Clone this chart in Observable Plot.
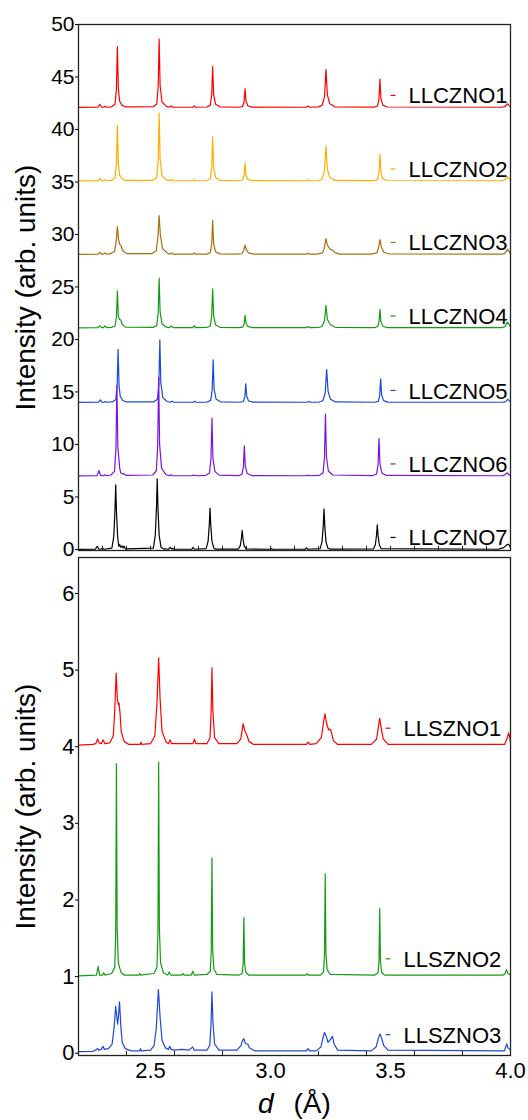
<!DOCTYPE html>
<html>
<head>
<meta charset="utf-8">
<script src="https://cdn.jsdelivr.net/npm/d3@7"></script>
<script src="https://cdn.jsdelivr.net/npm/@observablehq/plot@0.6"></script>
<style>
  html, body { margin: 0; padding: 0; background: #fff; }
  #chart { width: 528px; }
  #chart svg { display: block; }
</style>
</head>
<body>
<div id="chart"></div>
<script>
// ---------- data (d in Å, intensity above each pattern's own baseline) ----------
const topNames = ["LLCZNO1", "LLCZNO2", "LLCZNO3", "LLCZNO4", "LLCZNO5", "LLCZNO6", "LLCZNO7"];
const topOffsets = [42.1, 35.1, 28.1, 21.1, 14.0, 7.0, 0.0];
const topColors = ["#ff0000", "#ffae00", "#a8700c", "#149b14", "#1e46dc", "#7a14dc", "#000000"];

const bottomNames = ["LLSZNO1", "LLSZNO2", "LLSZNO3"];
const bottomOffsets = [4.02, 1.01, 0.02];
const bottomColors = ["#ff0000", "#149b14", "#1e46dc"];

const topYTicks = [0, 5, 10, 15, 20, 25, 30, 35, 40, 45, 50];
const bottomYTicks = [0, 1, 2, 3, 4, 5, 6];
const xTickLabels = [2.5, 3.0, 3.5, 4.0];
const topMinorTicks = [2.3, 2.4, 2.5, 2.6, 2.7, 2.8, 2.9, 3.0, 3.1, 3.2, 3.3, 3.4, 3.5, 3.6, 3.7, 3.8, 3.9];
const bottomMinorTicks = [2.4, 2.6, 2.8, 3.2, 3.4, 3.6, 3.8];

const LLCZNO1 = [
[2.2,0],[2.28,0.02],[2.289,0.3],[2.296,0.03],[2.304,0.02],[2.31,0.12],[2.317,0.02],
[2.337,0.06],[2.352,0.29],[2.358,1.74],[2.362,5.8],[2.366,1.86],[2.371,0.6],[2.376,0.42],[2.382,0.2],[2.395,0.06],
[2.511,0.07],[2.526,0.33],[2.532,1.95],[2.536,6.5],[2.54,2.08],[2.548,0.52],[2.566,0.1],
[2.58,0.02],[2.587,0.15],[2.594,0.02],[2.676,0.02],[2.682,0.15],[2.688,0.02],
[2.734,0.04],[2.749,0.2],[2.755,1.17],[2.759,3.9],[2.763,1.25],[2.771,0.31],[2.789,0.06],
[2.869,0.02],[2.884,0.09],[2.89,0.54],[2.894,1.8],[2.898,0.58],[2.906,0.14],[2.924,0.03],
[3.15,0.02],[3.157,0.15],[3.164,0.02],
[3.2,0.05],[3.215,0.2],[3.225,1.0],[3.231,3.6],[3.237,1.2],[3.247,0.35],[3.268,0.06],
[3.431,0.03],[3.446,0.14],[3.452,0.81],[3.456,2.7],[3.46,0.86],[3.468,0.22],[3.486,0.04],
[3.965,0.02],[3.978,0.1],[3.987,0.35],[3.995,0.15],[4.0,0.05]
];
const LLCZNO2 = [
[2.2,0],[2.28,0.02],[2.289,0.25],[2.296,0.03],[2.304,0.02],[2.31,0.12],[2.317,0.02],
[2.337,0.05],[2.352,0.27],[2.358,1.59],[2.362,5.3],[2.366,1.7],[2.371,0.55],[2.376,0.4],[2.382,0.2],[2.395,0.05],
[2.511,0.06],[2.526,0.32],[2.532,1.94],[2.536,6.45],[2.54,2.06],[2.548,0.52],[2.566,0.1],
[2.58,0.02],[2.587,0.15],[2.594,0.02],[2.676,0.02],[2.682,0.12],[2.688,0.02],
[2.734,0.04],[2.749,0.21],[2.755,1.26],[2.759,4.2],[2.763,1.34],[2.771,0.34],[2.789,0.06],
[2.869,0.02],[2.884,0.09],[2.89,0.51],[2.894,1.7],[2.898,0.54],[2.906,0.14],[2.924,0.03],
[3.15,0.02],[3.157,0.12],[3.164,0.02],
[3.2,0.04],[3.215,0.17],[3.225,0.95],[3.231,3.3],[3.237,1.1],[3.247,0.32],[3.268,0.05],
[3.431,0.03],[3.446,0.13],[3.452,0.77],[3.456,2.55],[3.46,0.82],[3.468,0.2],[3.486,0.04],
[3.965,0.02],[3.978,0.12],[3.987,0.4],[3.995,0.2],[4.0,0.05]
];
const LLCZNO3 = [
[2.2,0],[2.28,0.02],[2.289,0.2],[2.296,0.03],[2.304,0.02],[2.31,0.15],[2.317,0.02],
[2.332,0.05],[2.35,0.27],[2.357,1.2],[2.362,2.65],[2.367,1.4],[2.372,0.95],[2.377,0.85],[2.384,0.35],[2.4,0.08],
[2.506,0.07],[2.524,0.37],[2.531,1.67],[2.536,3.7],[2.541,1.85],[2.55,0.55],[2.571,0.11],
[2.58,0.03],[2.587,0.15],[2.594,0.02],[2.676,0.02],[2.682,0.15],[2.688,0.02],
[2.734,0.03],[2.749,0.16],[2.755,0.97],[2.759,3.23],[2.763,1.03],[2.771,0.26],[2.789,0.05],
[2.86,0.02],[2.882,0.09],[2.889,0.4],[2.894,0.9],[2.899,0.45],[2.908,0.14],[2.93,0.03],
[3.15,0.02],[3.157,0.12],[3.164,0.02],
[3.195,0.03],[3.217,0.15],[3.225,0.68],[3.231,1.5],[3.237,0.9],[3.248,0.5],[3.258,0.42],[3.27,0.15],[3.29,0.03],
[3.42,0.03],[3.443,0.14],[3.45,0.63],[3.456,1.4],[3.462,0.7],[3.472,0.21],[3.495,0.04],
[3.965,0.02],[3.975,0.08],[3.988,0.5],[3.996,0.2],[4.0,0.1]
];
const LLCZNO4 = [
[2.2,0],[2.28,0.02],[2.289,0.2],[2.296,0.03],[2.304,0.02],[2.31,0.2],[2.317,0.02],
[2.337,0.05],[2.352,0.18],[2.358,1.05],[2.362,3.5],[2.366,1.12],[2.371,0.8],[2.376,0.78],[2.382,0.35],[2.395,0.08],
[2.511,0.05],[2.526,0.24],[2.532,1.42],[2.536,4.74],[2.54,1.52],[2.548,0.38],[2.566,0.07],
[2.58,0.02],[2.587,0.2],[2.594,0.02],[2.676,0.02],[2.682,0.2],[2.688,0.02],
[2.734,0.04],[2.749,0.19],[2.755,1.12],[2.759,3.73],[2.763,1.19],[2.771,0.3],[2.789,0.06],
[2.869,0.02],[2.884,0.08],[2.89,0.38],[2.894,1.19],[2.898,0.45],[2.906,0.14],[2.924,0.03],
[3.15,0.02],[3.157,0.15],[3.164,0.02],
[3.2,0.04],[3.215,0.14],[3.225,0.7],[3.231,2.14],[3.237,0.8],[3.25,0.3],[3.27,0.06],
[3.431,0.03],[3.446,0.11],[3.452,0.55],[3.456,1.76],[3.46,0.6],[3.468,0.16],[3.486,0.03],
[3.965,0.02],[3.978,0.15],[3.987,0.55],[3.995,0.3],[4.0,0.1]
];
const LLCZNO5 = [
[2.2,0],[2.283,0.02],[2.291,0.25],[2.298,0.03],[2.306,0.02],[2.312,0.08],[2.318,0.02],
[2.34,0.05],[2.355,0.25],[2.361,1.52],[2.365,5.05],[2.369,1.62],[2.374,0.55],[2.378,0.45],[2.385,0.18],[2.398,0.05],
[2.514,0.06],[2.529,0.3],[2.535,1.79],[2.539,5.97],[2.543,1.91],[2.551,0.48],[2.569,0.09],
[2.583,0.02],[2.59,0.12],[2.597,0.02],[2.678,0.02],[2.684,0.12],[2.69,0.02],
[2.736,0.04],[2.751,0.2],[2.757,1.22],[2.761,4.07],[2.765,1.3],[2.773,0.33],[2.791,0.06],
[2.872,0.02],[2.887,0.09],[2.893,0.53],[2.897,1.78],[2.901,0.57],[2.909,0.14],[2.927,0.03],
[3.153,0.02],[3.16,0.1],[3.167,0.02],
[3.203,0.04],[3.218,0.16],[3.228,0.9],[3.234,3.14],[3.24,1.05],[3.25,0.3],[3.271,0.05],
[3.434,0.02],[3.449,0.11],[3.455,0.68],[3.459,2.25],[3.463,0.72],[3.471,0.18],[3.489,0.03],
[3.968,0.02],[3.98,0.08],[3.989,0.3],[3.996,0.15],[4.0,0.05]
];
const LLCZNO6 = [
[2.2,0],[2.277,0.03],[2.285,0.5],[2.292,0.05],[2.304,0.02],[2.31,0.1],[2.317,0.02],
[2.335,0.09],[2.35,0.43],[2.356,2.58],[2.36,8.6],[2.364,2.75],[2.372,0.69],[2.376,0.3],[2.382,0.2],[2.388,0.22],[2.398,0.06],
[2.509,0.09],[2.524,0.47],[2.53,2.82],[2.534,9.4],[2.538,3.01],[2.546,0.75],[2.564,0.14],
[2.578,0.02],[2.585,0.1],[2.592,0.02],[2.674,0.02],[2.68,0.1],[2.686,0.02],
[2.731,0.06],[2.746,0.28],[2.752,1.65],[2.756,5.5],[2.76,1.76],[2.768,0.44],[2.786,0.08],
[2.866,0.03],[2.881,0.14],[2.887,0.86],[2.891,2.87],[2.895,0.92],[2.903,0.23],[2.921,0.04],
[3.148,0.02],[3.155,0.08],[3.162,0.02],
[3.204,0.06],[3.219,0.29],[3.225,1.77],[3.229,5.89],[3.233,1.88],[3.241,0.47],[3.259,0.09],
[3.427,0.04],[3.442,0.18],[3.448,1.07],[3.452,3.57],[3.456,1.14],[3.464,0.29],[3.482,0.05],
[3.965,0.02],[3.976,0.1],[3.985,0.3],[3.994,0.12],[4.0,0.05]
];
const LLCZNO7 = [
[2.2,0],[2.27,0.02],[2.278,0.3],[2.285,0.03],[2.293,0.02],[2.3,0.12],[2.307,0.02],
[2.339,0.12],[2.347,1.23],[2.352,3.7],[2.355,6.16],[2.358,3.7],[2.363,1.23],[2.368,0.3],[2.372,0.45],[2.376,0.2],[2.381,0.35],[2.386,0.15],[2.39,0.3],[2.396,0.05],
[2.512,0.13],[2.52,1.35],[2.525,4.04],[2.528,6.73],[2.531,4.04],[2.536,1.35],[2.544,0.2],[2.555,0.05],
[2.575,0.02],[2.582,0.2],[2.588,0.05],[2.592,0.12],[2.598,0.02],[2.672,0.02],[2.677,0.2],[2.683,0.02],
[2.732,0.08],[2.74,0.79],[2.745,2.36],[2.748,3.94],[2.751,2.36],[2.756,0.79],[2.764,0.12],[2.772,0.03],
[2.866,0.04],[2.874,0.36],[2.879,1.09],[2.882,1.81],[2.885,1.09],[2.89,0.36],[2.898,0.05],
[3.0,0.02],[3.004,0.1],[3.008,0.02],[3.145,0.02],[3.15,0.15],[3.156,0.02],
[3.207,0.08],[3.215,0.77],[3.22,2.32],[3.223,3.87],[3.226,2.32],[3.231,0.77],[3.239,0.12],[3.25,0.03],
[3.429,0.05],[3.437,0.47],[3.442,1.41],[3.445,2.35],[3.448,1.41],[3.453,0.47],[3.461,0.07],
[3.95,0.02],[3.96,0.1],[3.97,0.15],[3.985,0.45],[3.992,0.5],[3.997,0.3],[4.0,0.15]
];

const LLSZNO1 = [
[2.2,0],[2.26,0.01],[2.272,0.02],[2.28,0.08],[2.286,0.03],[2.295,0.02],[2.302,0.07],[2.31,0.02],
[2.33,0.03],[2.345,0.12],[2.351,0.45],[2.357,0.94],[2.362,0.6],[2.366,0.53],[2.369,0.55],[2.373,0.42],[2.378,0.18],[2.39,0.05],[2.41,0.01],
[2.457,0.01],[2.46,0.04],[2.464,0.01],
[2.5,0.02],[2.518,0.12],[2.527,0.55],[2.534,1.14],[2.54,0.6],[2.548,0.18],[2.565,0.04],
[2.575,0.02],[2.581,0.07],[2.588,0.02],[2.677,0.02],[2.683,0.08],[2.689,0.02],
[2.735,0.02],[2.748,0.1],[2.753,0.45],[2.756,1.01],[2.76,0.45],[2.767,0.1],[2.785,0.02],
[2.86,0.02],[2.876,0.08],[2.882,0.2],[2.886,0.28],[2.892,0.2],[2.897,0.16],[2.902,0.13],[2.91,0.05],[2.93,0.01],
[3.15,0.01],[3.157,0.04],[3.164,0.01],
[3.19,0.02],[3.212,0.1],[3.221,0.3],[3.227,0.41],[3.234,0.28],[3.242,0.2],[3.248,0.21],[3.252,0.19],[3.262,0.06],[3.28,0.01],
[3.42,0.01],[3.442,0.08],[3.45,0.25],[3.455,0.35],[3.46,0.25],[3.47,0.08],[3.49,0.01],
[3.975,0.01],[3.985,0.08],[3.992,0.16],[3.997,0.1],[4.0,0.04]
];
const LLSZNO2 = [
[2.2,0],[2.275,0.01],[2.282,0.12],[2.288,0.01],[2.3,0.01],[2.305,0.04],[2.31,0.01],
[2.338,0.03],[2.351,0.11],[2.355,0.55],[2.358,2.77],[2.361,0.61],[2.366,0.17],[2.372,0.1],[2.378,0.04],[2.39,0.01],
[2.452,0.01],[2.455,0.03],[2.458,0.01],
[2.514,0.03],[2.527,0.11],[2.531,0.56],[2.534,2.79],[2.537,0.61],[2.542,0.17],[2.554,0.04],
[2.572,0.01],[2.578,0.05],[2.585,0.01],[2.63,0.01],[2.635,0.03],[2.64,0.01],[2.67,0.01],[2.676,0.06],[2.682,0.01],
[2.736,0.02],[2.749,0.06],[2.753,0.31],[2.756,1.54],[2.759,0.34],[2.764,0.09],[2.776,0.02],
[2.869,0.01],[2.882,0.03],[2.886,0.15],[2.889,0.76],[2.892,0.17],[2.897,0.05],[2.909,0.01],
[3.148,0.01],[3.153,0.03],[3.158,0.01],
[3.208,0.01],[3.221,0.05],[3.225,0.27],[3.228,1.33],[3.231,0.29],[3.236,0.08],[3.248,0.02],
[3.435,0.01],[3.448,0.04],[3.452,0.18],[3.455,0.88],[3.458,0.19],[3.463,0.05],[3.475,0.01],
[3.97,0.01],[3.978,0.03],[3.983,0.08],[3.99,0.03],[4.0,0.01]
];
const LLSZNO3 = [
[2.2,0],[2.26,0.005],[2.27,0.02],[2.28,0.04],[2.285,0.02],[2.295,0.03],[2.302,0.07],[2.308,0.03],
[2.325,0.04],[2.34,0.1],[2.348,0.3],[2.355,0.59],[2.36,0.45],[2.363,0.36],[2.366,0.45],[2.371,0.65],[2.376,0.35],[2.382,0.12],[2.395,0.04],[2.42,0.01],
[2.455,0.01],[2.458,0.04],[2.462,0.01],
[2.5,0.02],[2.515,0.08],[2.524,0.3],[2.533,0.81],[2.54,0.45],[2.548,0.15],[2.562,0.05],
[2.575,0.03],[2.58,0.07],[2.586,0.03],[2.6,0.02],[2.63,0.03],[2.66,0.02],[2.676,0.06],[2.682,0.02],
[2.735,0.02],[2.747,0.08],[2.752,0.35],[2.756,0.78],[2.76,0.4],[2.767,0.1],[2.785,0.02],
[2.86,0.02],[2.877,0.08],[2.884,0.15],[2.889,0.17],[2.895,0.11],[2.9,0.1],[2.905,0.1],[2.912,0.05],[2.935,0.01],
[3.15,0.01],[3.156,0.04],[3.163,0.01],
[3.19,0.01],[3.21,0.06],[3.22,0.2],[3.225,0.25],[3.232,0.2],[3.24,0.12],[3.25,0.16],[3.258,0.2],[3.265,0.1],[3.28,0.02],
[3.42,0.01],[3.44,0.06],[3.45,0.18],[3.456,0.23],[3.462,0.19],[3.472,0.08],[3.49,0.02],
[3.975,0.01],[3.984,0.1],[3.99,0.05],[4.0,0.02]
];

const topSeries = [LLCZNO1, LLCZNO2, LLCZNO3, LLCZNO4, LLCZNO5, LLCZNO6, LLCZNO7];
const bottomSeries = [LLSZNO1, LLSZNO2, LLSZNO3];

// ---------- tables built from the arrays ----------
const topRows = topSeries.flatMap((pts, i) => pts.map(([d, v]) => ({name: topNames[i], d, y: v + topOffsets[i]})));
const bottomRows = bottomSeries.flatMap((pts, i) => pts.map(([d, v]) => ({name: bottomNames[i], d, y: v + bottomOffsets[i]})));
const topLegend = topNames.map((name, i) => ({name, offset: topOffsets[i]}));
const bottomLegend = bottomNames.map((name, i) => ({name, offset: bottomOffsets[i]}));

const font = "'Liberation Sans', Arial, Helvetica, sans-serif";
const frameColor = "#222";
const yTitle = "Intensity (arb. units)";

const topPlot = Plot.plot({
  width: 528, height: 553,
  marginTop: 24, marginBottom: 3, marginLeft: 78, marginRight: 18,
  style: {fontFamily: font, color: "#000", background: "#fff", overflow: "visible"},
  x: {domain: [2.2, 4.0], axis: null},
  y: {domain: [-0.1, 50]},
  color: {domain: topNames, range: topColors},
  marks: [
    Plot.ruleX(topMinorTicks, {x: d => d, y1: -0.1, y2: 0.3, stroke: frameColor, strokeWidth: 1}),
    Plot.line(topRows, {x: "d", y: "y", z: "name", stroke: "name", strokeWidth: 1.2}),
    Plot.link(topLegend, {x1: () => 3.5, x2: () => 3.521, y1: "offset", y2: "offset", dy: -12, stroke: "name", strokeWidth: 1.2}),
    Plot.text(topLegend, {x: () => 3.575, y: "offset", text: "name", textAnchor: "start", dy: -11, fontSize: 22, fill: "#000"}),
    Plot.axisY({ticks: topYTicks, tickSize: 3, tickPadding: 1, fontSize: 21, label: null}),
    Plot.text([yTitle], {text: d => d, frameAnchor: "left", textAnchor: "middle", rotate: -90, dx: -52, fontSize: 28, fill: "#000"}),
    Plot.frame({stroke: frameColor, strokeWidth: 1.3})
  ]
});

const bottomPlot = Plot.plot({
  width: 528, height: 567,
  marginTop: 4, marginBottom: 65, marginLeft: 78, marginRight: 18,
  style: {fontFamily: font, color: "#000", background: "#fff", overflow: "visible"},
  x: {domain: [2.2, 4.0]},
  y: {domain: [-0.03, 6.47]},
  color: {domain: bottomNames, range: bottomColors},
  marks: [
    Plot.ruleX(bottomMinorTicks, {x: d => d, y1: -0.03, y2: 0.025, stroke: frameColor, strokeWidth: 1}),
    Plot.line(bottomRows, {x: "d", y: "y", z: "name", stroke: "name", strokeWidth: 1.2}),
    Plot.link(bottomLegend, {x1: () => 3.48, x2: () => 3.5, y1: "offset", y2: "offset", dy: -17, stroke: "name", strokeWidth: 1.2}),
    Plot.text(bottomLegend, {x: () => 3.554, y: "offset", text: "name", textAnchor: "start", dy: -16, fontSize: 22, fill: "#000"}),
    Plot.axisY({ticks: bottomYTicks, tickFormat: d3.format("d"), tickSize: 3, tickPadding: 1, fontSize: 22, label: null}),
    Plot.axisX({ticks: xTickLabels, tickFormat: d3.format(".1f"), tickSize: 0, tickPadding: 7, fontSize: 22, label: null}),
    Plot.text([yTitle], {text: d => d, frameAnchor: "left", textAnchor: "middle", rotate: -90, dx: -52, fontSize: 28, fill: "#000"}),
    Plot.text(["d"], {text: d => d, frameAnchor: "bottom", dx: -21, dy: 57, textAnchor: "end", fontStyle: "italic", fontSize: 28, fill: "#000"}),
    Plot.text(["(Å)"], {text: d => d, frameAnchor: "bottom", dx: -1, dy: 57, textAnchor: "start", fontSize: 28, fill: "#000"}),
    Plot.frame({stroke: frameColor, strokeWidth: 1.3})
  ]
});

document.getElementById("chart").append(topPlot, bottomPlot);
</script>
</body>
</html>
